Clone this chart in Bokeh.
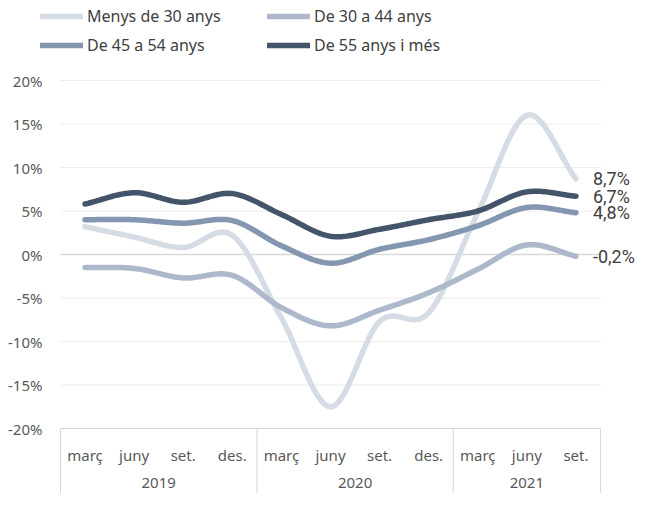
from bokeh.plotting import figure
from bokeh.models import Range1d, Legend, LegendItem, Label
from bokeh.core.properties import value
from bokeh.embed import file_html
from bokeh.resources import INLINE
import numpy as np

# ---- data ----
years = ["2019", "2020", "2021"]
quarters = [["març", "juny", "set.", "des."],
            ["març", "juny", "set.", "des."],
            ["març", "juny", "set."]]
series_names = ["Menys de 30 anys", "De 30 a 44 anys", "De 45 a 54 anys", "De 55 anys i més"]
menys30 = [3.2, 2.0, 0.8, 2.2, -7.3, -17.5, -7.7, -6.7, 4.8, 16.0, 8.7]
de30a44 = [-1.5, -1.6, -2.7, -2.4, -6.1, -8.2, -6.4, -4.4, -1.7, 1.1, -0.2]
de45a54 = [4.0, 4.0, 3.6, 3.9, 1.0, -1.0, 0.6, 1.7, 3.3, 5.4, 4.8]
de55 = [5.8, 7.1, 6.0, 7.0, 4.6, 2.1, 2.9, 4.0, 5.0, 7.2, 6.7]
y_ticks = [-20, -15, -10, -5, 0, 5, 10, 15, 20]
y_tick_labels = ["-20%", "-15%", "-10%", "-5%", "0%", "5%", "10%", "15%", "20%"]

colors = ["#D6DCE5", "#ADB9CA", "#8497B0", "#44546A"]
FONT = "Noto Sans"

# ---- layout constants (pixels) ----
W, H = 636, 493
LEFT_PX = 60          # left edge of plotting area
CAT_PX = 540 / 11     # width of one category
PX_PER = 8.7          # pixels per percentage point
TOP_PX = 80           # position of the 20% line from the top

n = sum(len(q) for q in quarters)
xs = np.arange(n) + 0.5
x_start = -LEFT_PX / CAT_PX
x_end = x_start + W / CAT_PX
y_top = 20 + TOP_PX / PX_PER
y_bot = y_top - H / PX_PER


def smooth(x, y, steps=24):
    # Catmull-Rom (Excel-like smoothed line)
    x = np.asarray(x, float); y = np.asarray(y, float)
    P = np.column_stack([x, y])
    P = np.vstack([2 * P[0] - P[1], P, 2 * P[-1] - P[-2]])
    out = []
    for i in range(1, len(P) - 2):
        p0, p1, p2, p3 = P[i - 1], P[i], P[i + 1], P[i + 2]
        t = np.linspace(0, 1, steps, endpoint=(i == len(P) - 3))[:, None]
        c = 0.5 * ((2 * p1) + (-p0 + p2) * t + (2 * p0 - 5 * p1 + 4 * p2 - p3) * t ** 2
                   + (-p0 + 3 * p1 - 3 * p2 + p3) * t ** 3)
        out.append(c)
    out = np.vstack(out)
    return out[:, 0], out[:, 1]


p = figure(width=W, height=H, output_backend="svg", toolbar_location=None,
           x_range=Range1d(x_start, x_end), y_range=Range1d(y_bot, y_top),
           min_border=0)
p.outline_line_color = None
p.background_fill_color = "white"
p.border_fill_color = "white"
p.xaxis.visible = False
p.yaxis.visible = False
p.grid.visible = False

# horizontal gridlines
grid_cols = ["#D9D9D9" if t in (0, y_ticks[0]) else "#EDEDED" for t in y_ticks]
grid_w = [1.5 if t == 0 else 1 for t in y_ticks]
p.segment(x0=[0] * len(y_ticks), x1=[n] * len(y_ticks), y0=y_ticks, y1=y_ticks,
          line_color=grid_cols, line_width=grid_w)

# y tick labels
p.text(x=[-18 / CAT_PX] * len(y_ticks), y=y_ticks, text=y_tick_labels,
       text_align="right", text_baseline="middle", text_font=value(FONT),
       text_font_size="15px", text_color="#595959")

# category separators and labels
bounds = [0]
for q in quarters:
    bounds.append(bounds[-1] + len(q))
p.segment(x0=bounds, x1=bounds, y0=[y_ticks[0]] * len(bounds), y1=[y_bot] * len(bounds),
          line_color="#D9D9D9", line_width=1)
q_labels = [lab for q in quarters for lab in q]
p.text(x=list(xs), y=[y_top - 454 / PX_PER] * n, text=q_labels, text_align="center",
       text_baseline="middle", text_font=value(FONT), text_font_size="15px",
       text_color="#595959")
y_centers = [(bounds[i] + bounds[i + 1]) / 2 for i in range(len(years))]
p.text(x=y_centers, y=[y_top - 482 / PX_PER] * len(years), text=years, text_align="center",
       text_baseline="middle", text_font=value(FONT), text_font_size="15px",
       text_color="#595959")

# series
all_series = [menys30, de30a44, de45a54, de55]
items = []
for name, ser, col in zip(series_names, all_series, colors):
    sx, sy = smooth(xs, ser)
    r = p.line(sx, sy, line_color=col, line_width=5.5, line_cap="round", line_join="round")
    items.append(LegendItem(label=name, renderers=[r]))

# end labels
for ser in all_series:
    v = ser[-1]
    txt = f"{v:.1f}".replace(".", ",") + "%"
    p.add_layout(Label(x=xs[-1], y=v, x_offset=17, text=txt, text_baseline="middle",
                       text_font="Roboto", text_font_size="18px", text_color="#404040"))

legend = Legend(items=items, ncols=2, orientation="horizontal",
                location=(40, H - 9 - 47),
                glyph_width=43, glyph_height=20, label_height=20, label_width=173,
                label_standoff=4, spacing=7, padding=0, margin=0,
                label_text_font=FONT, label_text_font_size="16px",
                label_text_color="#404040",
                border_line_color=None, background_fill_alpha=0)
p.add_layout(legend)

open("out.html", "w").write(file_html(p, INLINE))
